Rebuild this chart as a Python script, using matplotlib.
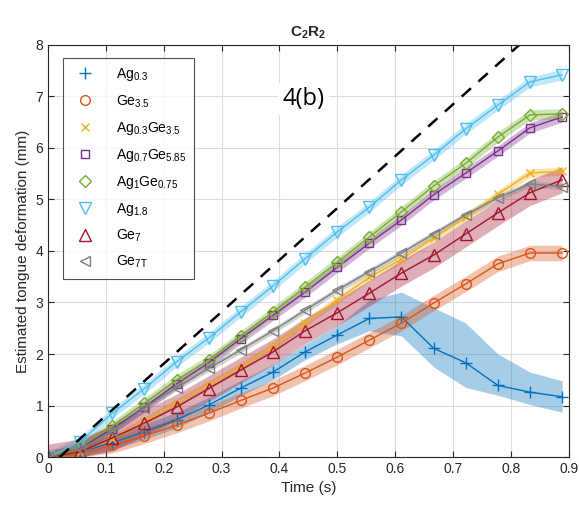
import numpy as np
import matplotlib
matplotlib.use("Agg")
import matplotlib.pyplot as plt
from matplotlib.lines import Line2D

plt.rcParams['font.family'] = ['Liberation Sans', 'DejaVu Sans']
plt.rcParams['mathtext.fontset'] = 'custom'
plt.rcParams['mathtext.rm'] = 'Liberation Sans'
plt.rcParams['mathtext.it'] = 'Liberation Sans'
plt.rcParams['mathtext.bf'] = 'Liberation Sans:bold'

# time samples (s)
t = [0, 0.0556, 0.1111, 0.1667, 0.2222, 0.2778, 0.3333, 0.3889, 0.4444,
     0.5, 0.5556, 0.6111, 0.6667, 0.7222, 0.7778, 0.8333, 0.8889]

# estimated deformation (mm)
ag03 = [0, 0.1, 0.28, 0.49, 0.72, 1.01, 1.34, 1.65, 2.04, 2.37, 2.69, 2.72,
        2.11, 1.83, 1.39, 1.26, 1.17]
ge35 = [0, 0.05, 0.23, 0.41, 0.62, 0.85, 1.1, 1.34, 1.63, 1.94, 2.27, 2.6,
        2.99, 3.36, 3.75, 3.96, 3.96]
ag03ge35 = [0, 0.1, 0.35, 0.7, 1.05, 1.4, 1.75, 2.15, 2.6, 3.05, 3.49, 3.84,
            4.25, 4.65, 5.1, 5.51, 5.55]
ag07ge585 = [0, 0.18, 0.55, 0.97, 1.42, 1.83, 2.3, 2.75, 3.2, 3.68, 4.15, 4.6,
             5.09, 5.51, 5.94, 6.39, 6.6]
ag1ge075 = [0, 0.2, 0.6, 1.05, 1.5, 1.88, 2.35, 2.82, 3.3, 3.78, 4.27, 4.76,
            5.26, 5.7, 6.21, 6.64, 6.66]
ag18 = [0, 0.3, 0.85, 1.33, 1.85, 2.31, 2.82, 3.32, 3.85, 4.37, 4.85, 5.38,
        5.86, 6.37, 6.83, 7.28, 7.42]
ge7 = [0, 0.1, 0.37, 0.66, 0.97, 1.33, 1.69, 2.04, 2.45, 2.8, 3.18, 3.57,
       3.92, 4.33, 4.74, 5.13, 5.38]
ge7t = [0, 0.15, 0.5, 0.95, 1.35, 1.72, 2.08, 2.45, 2.85, 3.24, 3.6, 3.96,
        4.33, 4.7, 5.03, 5.3, 5.25]

# shaded band limits for Ag0.3 (wide spread after 0.5 s)
ag03_lo = [0, 0.0, 0.15, 0.34, 0.57, 0.86, 1.19, 1.5, 1.89, 2.2, 2.45, 2.35,
           1.75, 1.35, 1.2, 1.02, 0.87]
ag03_hi = [0, 0.2, 0.43, 0.64, 0.87, 1.16, 1.49, 1.8, 2.19, 2.55, 3.05, 3.2,
           2.9, 2.6, 2.0, 1.65, 1.48]

# half-widths of the other bands
spread = {'ge35': 0.15, 'ag03ge35': 0.08, 'ag07ge585': 0.1, 'ag1ge075': 0.1,
          'ag18': 0.1, 'ge7': 0.25, 'ge7t': 0.06}

# reference (dashed) line
ref_t = [0.02, 0.815]
ref_y = [0, 8]

labels = [r'Ag$_{0.3}$', r'Ge$_{3.5}$', r'Ag$_{0.3}$Ge$_{3.5}$',
          r'Ag$_{0.7}$Ge$_{5.85}$', r'Ag$_{1}$Ge$_{0.75}$', r'Ag$_{1.8}$',
          r'Ge$_{7}$', r'Ge$_{7T}$']

colors = ['#0072BD', '#D95319', '#EDB120', '#7E2F8E', '#77AC30', '#4DBEEE',
          '#A2142F', '#7F7F7F']
markers = ['+', 'o', 'x', 's', 'D', 'v', '^', '<']
msizes = [8, 7, 6, 6, 6, 8, 8, 7]

fig = plt.figure(figsize=(5.79, 5.09), dpi=100)
ax = fig.add_axes([0.083, 0.102, 0.899, 0.81])

t_arr = np.array(t)
ax.fill_between(t_arr, ag03_lo, ag03_hi, color=colors[0], alpha=0.35, lw=0)

series = [ag03, ge35, ag03ge35, ag07ge585, ag1ge075, ag18, ge7, ge7t]
keys = [None, 'ge35', 'ag03ge35', 'ag07ge585', 'ag1ge075', 'ag18', 'ge7', 'ge7t']

for y, k, c in zip(series, keys, colors):
    if k is None:
        continue
    y = np.array(y)
    s = spread[k]
    ax.fill_between(t_arr, np.maximum(y - s, 0), y + s, color=c, alpha=0.35, lw=0)

for y, c, m, ms in zip(series, colors, markers, msizes):
    ax.plot(t, y, color=c, lw=1.0, marker=m, ms=ms, mfc='none', mew=1.0)

ax.plot(ref_t, ref_y, color='black', ls=(0, (5, 4)), lw=1.8)

ax.set_xlim(0, 0.9)
ax.set_ylim(0, 8)
ax.set_xticks(np.arange(0, 0.91, 0.1))
ax.set_xticklabels(['0', '0.1', '0.2', '0.3', '0.4', '0.5', '0.6', '0.7', '0.8', '0.9'])
ax.set_yticks(range(0, 9))
ax.grid(True, color='#DCDCDC', lw=0.8)
ax.set_axisbelow(True)
ax.tick_params(direction='in', length=4, labelsize=10, colors='#262626',
               top=True, right=True)
for sp in ax.spines.values():
    sp.set_color('#262626')
    sp.set_linewidth(0.8)

ax.set_xlabel('Time (s)', fontsize=11, color='#262626')
ax.set_ylabel('Estimated tongue deformation (mm)', fontsize=11, color='#262626')
ax.set_title(r'$\mathbf{C_2R_2}$', fontsize=11, color='#262626', pad=6)

# panel tag on a white patch
ax.text(0.405, 6.95, '4(b)', fontsize=17, family='Open Sans', ha='left', va='center',
        bbox=dict(facecolor='white', edgecolor='none', pad=3))

handles = [Line2D([], [], ls='none', color=c, marker=m, ms=ms, mfc='none', mew=1.0)
           for c, m, ms in zip(colors, markers, msizes)]
leg = ax.legend(handles, labels, loc='upper left', bbox_to_anchor=(0.015, 0.985),
                fontsize=10, frameon=True, fancybox=False, edgecolor='#262626',
                labelspacing=0.72, handletextpad=1.2, borderpad=0.6)
leg.get_frame().set_linewidth(0.8)

fig.savefig('out.png', dpi=100)
